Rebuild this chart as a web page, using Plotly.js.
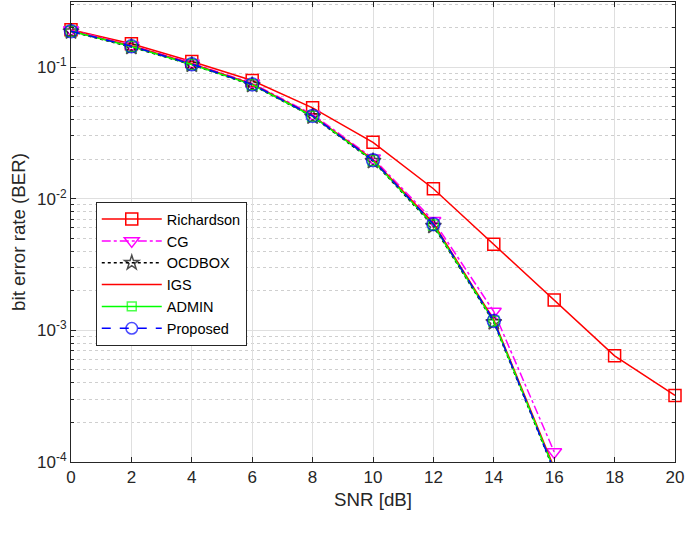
<!DOCTYPE html>
<html><head><meta charset="utf-8">
<script src="https://cdn.plot.ly/plotly-3.0.1.min.js"></script>
<style>html,body{margin:0;padding:0;background:#fff}</style>
</head><body>
<div id="chart" style="width:685px;height:541px"></div>
<script>
// ---- data ----
const snrLong  = [0, 2, 4, 6, 8, 10, 12, 14, 16, 18, 20];
const snrShort = [0, 2, 4, 6, 8, 10, 12, 14, 16];
const richardson = [0.192, 0.150, 0.110, 0.079, 0.049, 0.0268, 0.0119, 0.0045, 0.0017, 0.00064, 0.00032];
const cg        = [0.191, 0.146, 0.107, 0.0752, 0.0436, 0.0203, 0.0068, 0.00139, 0.000119];
const ocdbox    = [0.186, 0.142, 0.104, 0.0730, 0.0420, 0.0193, 0.0062, 0.00115, 0.000085];
const igs       = [0.188, 0.145, 0.106, 0.0745, 0.0428, 0.0198, 0.0065, 0.00120, 0.000090];
const admin     = [0.187, 0.143, 0.1045, 0.0735, 0.0423, 0.0195, 0.0063, 0.00117, 0.000087];
const proposed  = [0.187, 0.1437, 0.105, 0.0738, 0.0425, 0.0196, 0.0064, 0.00118, 0.000086];
const seriesNames = ['Richardson', 'CG', 'OCDBOX', 'IGS', 'ADMIN', 'Proposed'];
const xTickVals = [0, 2, 4, 6, 8, 10, 12, 14, 16, 18, 20];
const yTickVals = [1e-4, 1e-3, 1e-2, 1e-1];
const yTickText = ['10<sup>-4</sup>', '10<sup>-3</sup>', '10<sup>-2</sup>', '10<sup>-1</sup>'];

// minor tick positions (2..9 in each decade)
const yMinorVals = [];
for (let e = -4; e <= -1; e++) for (let m = 2; m <= 9; m++) yMinorVals.push(m * Math.pow(10, e));

// hide markers that fall below the axis (last point)
const sizesShort = (s) => snrShort.map((_, i) => i === snrShort.length - 1 ? 0 : s);

const traces = [
  {x: snrLong, y: richardson, name: seriesNames[0], mode: 'lines+markers',
   line: {color: '#ff0000', width: 1.5},
   marker: {symbol: 'square-open', size: 12, color: '#ff0000', line: {width: 1.5}}},
  {x: snrShort, y: cg, name: seriesNames[1], mode: 'lines+markers',
   line: {color: '#ff00ff', width: 1.5, dash: 'dashdot'},
   marker: {symbol: 'triangle-down-open', size: 13, color: '#ff00ff', line: {width: 1.5}}},
  {x: snrShort, y: ocdbox, name: seriesNames[2], mode: 'lines+markers',
   line: {color: '#000000', width: 1.5, dash: 'dot'},
   marker: {symbol: 'star-open', size: sizesShort(12), color: '#000000', line: {width: 1.5}}},
  {x: snrShort, y: igs, name: seriesNames[3], mode: 'lines',
   line: {color: '#ff0000', width: 1.5}},
  {x: snrShort, y: admin, name: seriesNames[4], mode: 'lines+markers',
   line: {color: '#00ff00', width: 1.5},
   marker: {symbol: 'square-open', size: sizesShort(10), color: '#00ff00', line: {width: 1.5}}},
  {x: snrShort, y: proposed, name: seriesNames[5], mode: 'lines+markers',
   line: {color: '#0000ff', width: 1.5, dash: 'dash'},
   marker: {symbol: 'circle-open', size: sizesShort(13), color: '#0000ff', line: {width: 1.5}}}
].map(t => Object.assign({type: 'scatter', cliponaxis: false}, t));

const axisCommon = {
  showline: true, linecolor: '#262626', linewidth: 1, mirror: 'ticks',
  ticks: 'inside', ticklen: 5, tickcolor: '#262626',
  showgrid: true, gridcolor: '#dfdfdf', gridwidth: 1, zeroline: false,
  tickfont: {family: 'Liberation Sans, Arial, sans-serif', size: 17, color: '#262626'}
};

const layout = {
  width: 685, height: 541,
  margin: {l: 71, r: 10, t: 2, b: 79},
  paper_bgcolor: '#ffffff', plot_bgcolor: '#ffffff',
  font: {family: 'Liberation Sans, Arial, sans-serif', color: '#262626'},
  showlegend: true,
  xaxis: Object.assign({}, axisCommon, {
    range: [0, 20], tickmode: 'array', tickvals: xTickVals,
    title: {text: 'SNR [dB]', font: {size: 18.7, color: '#262626'}, standoff: 6}
  }),
  yaxis: Object.assign({}, axisCommon, {
    type: 'log', range: [-4, -0.506],
    tickmode: 'array', tickvals: yTickVals, ticktext: yTickText,
    title: {text: 'bit error rate (BER)', font: {size: 18.7, color: '#262626'}, standoff: 6},
    minor: {tickmode: 'array', tickvals: yMinorVals, ticks: 'inside', ticklen: 3,
            tickcolor: '#262626', showgrid: true, gridcolor: '#cfcfcf', griddash: 'dot', gridwidth: 1}
  }),
  legend: {
    x: 0.041, y: 0.565, xanchor: 'left', yanchor: 'top',
    bgcolor: '#ffffff', bordercolor: '#262626', borderwidth: 1,
    font: {family: 'Liberation Sans, Arial, sans-serif', size: 14.5, color: '#000000'},
    itemwidth: 60, tracegroupgap: 0
  }
};

Plotly.newPlot('chart', traces, layout, {displayModeBar: false, staticPlot: true});
</script>
</body></html>
